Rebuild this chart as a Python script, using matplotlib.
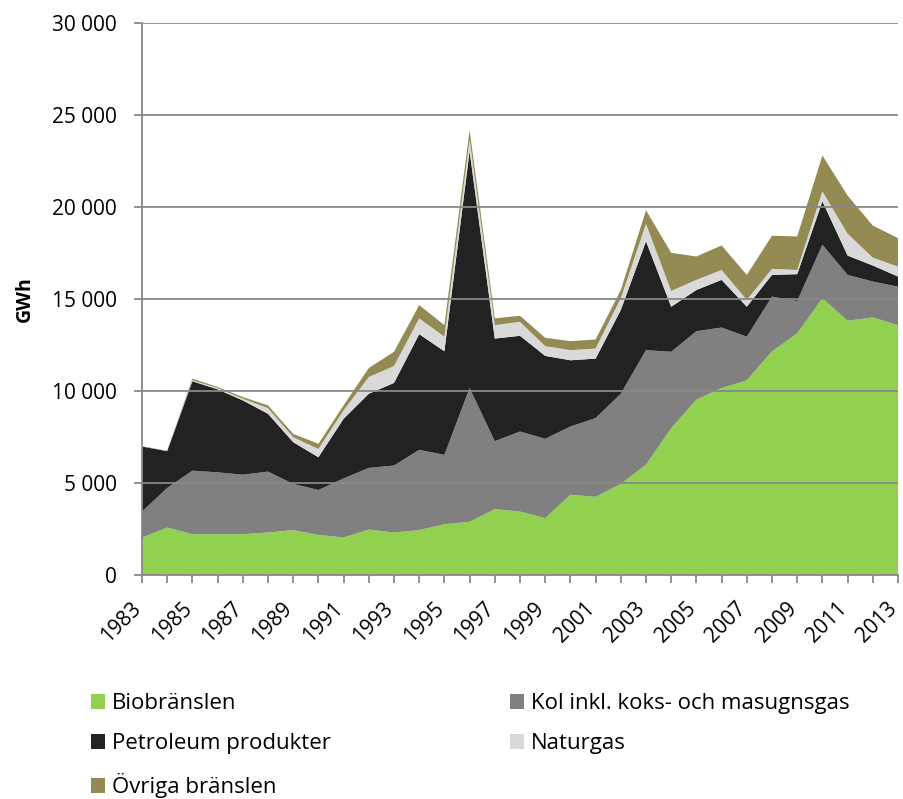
import numpy as np
import matplotlib.pyplot as plt
from matplotlib.patches import Patch


# =====================================================
# DATA (GWh)
# =====================================================

years = list(range(1983, 2014))

bio = [2040, 2580, 2220, 2220, 2220, 2310, 2440, 2180, 2040, 2470,
       2310, 2440, 2760, 2890, 3580, 3450, 3090, 4360, 4250, 4950,
       6000, 7980, 9530, 10160, 10580, 12160, 13130, 15040, 13820, 14000,
       13580]

kol = [1410, 2150, 3450, 3360, 3230, 3310, 2510, 2440, 3210, 3350,
       3640, 4360, 3770, 7270, 3690, 4350, 4310, 3710, 4280, 4900,
       6220, 4150, 3720, 3290, 2370, 2970, 1760, 2910, 2490, 1950,
       2090]

petro = [3530, 2000, 4860, 4510, 4040, 3140, 2270, 1780, 3240, 4030,
         4490, 6290, 5630, 12880, 5580, 5200, 4510, 3600, 3230, 4550,
         5920, 2450, 2240, 2590, 1630, 1180, 1460, 2360, 1050, 870,
         550]

naturgas = [0, 0, 50, 70, 90, 310, 270, 450, 460, 910,
            920, 860, 790, 630, 730, 760, 530, 550, 550, 640,
            940, 860, 550, 540, 370, 330, 230, 540, 1190, 430,
            540]

ovriga = [20, 20, 90, 60, 90, 150, 180, 280, 270, 490,
          770, 720, 630, 510, 370, 330, 450, 490, 490, 450,
          740, 2070, 1270, 1330, 1360, 1800, 1820, 1950, 2070, 1740,
          1550]

labels = [
    "Biobränslen",
    "Kol inkl. koks- och masugnsgas",
    "Petroleum produkter",
    "Naturgas",
    "Övriga bränslen",
]

colors = ["#92D050", "#808080", "#222222", "#D9D9D9", "#948A54"]


# =====================================================
# CHART
# =====================================================

plt.rcParams["font.family"] = ["Open Sans", "DejaVu Sans"]

fig = plt.figure(figsize=(9.04, 7.99), dpi=100)
ax = fig.add_axes([142 / 904, 1 - 575 / 799, 756 / 904, 552 / 799])

ax.stackplot(
    years,
    bio, kol, petro, naturgas, ovriga,
    colors=colors,
    linewidth=0
)

ax.set_xlim(1983, 2013)
ax.set_ylim(0, 30000)

ax.set_yticks(np.arange(0, 30001, 5000))
ax.set_yticklabels(
    [f"{v:,}".replace(",", " ") for v in range(0, 30001, 5000)],
    fontsize=15
)

ax.set_xticks(years)
ax.set_xticklabels(
    [str(y) if (y - 1983) % 2 == 0 else "" for y in years],
    rotation=45,
    ha="right",
    va="baseline",
    rotation_mode="anchor",
    fontsize=15
)

ax.grid(axis="y", color="#888888", linewidth=1.3)
for line in ax.get_ygridlines():
    line.set_zorder(0.5)

for side in ["top", "right"]:
    ax.spines[side].set_visible(False)
for side in ["left", "bottom"]:
    ax.spines[side].set_color("#888888")
    ax.spines[side].set_linewidth(1.3)
    ax.spines[side].set_zorder(3)

ax.tick_params(axis="both", color="#888888", width=1.3, length=6)
ax.tick_params(axis="y", pad=12)
ax.tick_params(axis="x", pad=18.5)

ax.set_ylabel("GWh", fontsize=14, fontweight="bold", labelpad=12)


# =====================================================
# LEGEND
# =====================================================

handles = [Patch(facecolor=c, edgecolor="none") for c in colors]
order = [0, 2, 4, 1, 3]

fig.legend(
    [handles[i] for i in order],
    [labels[i] for i in order],
    loc="upper left",
    bbox_to_anchor=(71 / 904, 1 - 673 / 799),
    ncol=2,
    frameon=False,
    fontsize=16,
    handlelength=0.65,
    handleheight=0.65,
    handletextpad=0.3,
    columnspacing=8.05,
    labelspacing=0.86
)

fig.savefig("out.png", dpi=100)
plt.close()
